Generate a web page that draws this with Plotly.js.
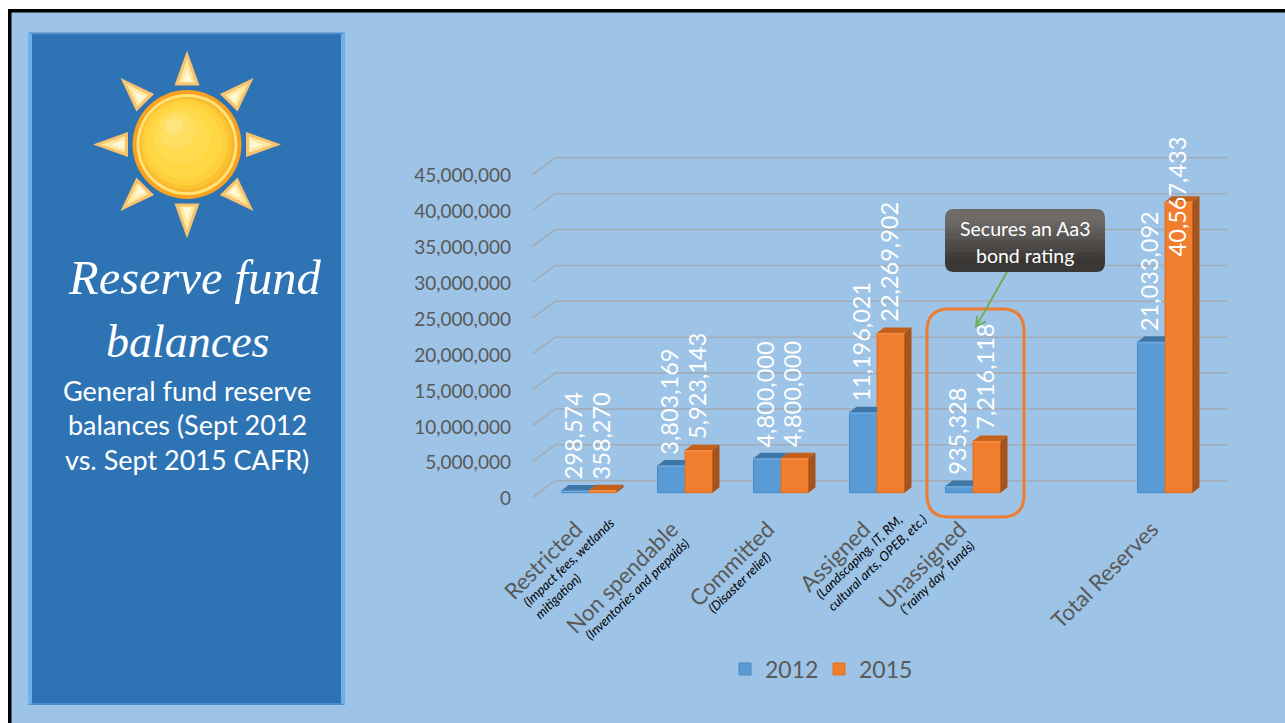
<!DOCTYPE html>
<html>
<head>
<meta charset="utf-8">
<script src="https://cdn.plot.ly/plotly-3.0.1.min.js"></script>
<style>html,body{margin:0;padding:0;background:#fff;overflow:hidden}#chart{width:1285px;height:723px}</style>
</head>
<body>
<div id="chart"></div>
<script>
// ---- data ----
var categories = ["Restricted", "Non spendable", "Committed", "Assigned", "Unassigned", "", "Total Reserves"];
var subLabels = ["(Impact fees, wetlands<br>mitigation)", "(Inventories and prepaids)", "(Disaster relief)", "(Landscaping, IT, RM,<br>cultural arts, OPEB, etc.)", "(\u201Crainy day\u201D funds)", "", ""];
var values2012 = [298574, 3803169, 4800000, 11196021, 935328, null, 21033092];
var values2015 = [358270, 5923143, 4800000, 22269902, 7216118, null, 40567433];
var valueTicks = [0, 5000000, 10000000, 15000000, 20000000, 25000000, 30000000, 35000000, 40000000, 45000000];

// ---- page geometry (pixels) ----
var W = 1285, H = 723;
var plotL = 532, plotR = 1227, plotT = 150, plotB = 500;
var firstGroupPx = 589, groupPitch = 96, barPx = 27.5, pxPerMillion = 7.175;
var zeroPxFront = 497.7, zeroPxBars = 492.7, zeroPxBack = 480.7, backLeftPx = 555;
var depthPxX = 7, depthPxY = 5.5;

function px(x) { return x / W; }
function py(y) { return 1 - y / H; }
function unitsX(p) { return (p - firstGroupPx) / groupPitch; }
function unitsY(p) { return p / pxPerMillion * 1e6; }

var xRange = [unitsX(plotL), unitsX(plotR)];
var yRangeWall = [-unitsY(plotB - zeroPxFront), unitsY(zeroPxFront - plotT)];
var yRangeBars = [-unitsY(plotB - zeroPxBars), unitsY(zeroPxBars - plotT)];
var idx = categories.map(function (c, i) { return i; });
var dX = depthPxX / groupPitch, dY = unitsY(depthPxY), barW = barPx / groupPitch;

// ---- wall: back gridlines with their diagonal returns to the front plane ----
var wallX = [], wallY = [], backOffset = unitsY(zeroPxFront - zeroPxBack);
valueTicks.forEach(function (v) {
  wallX.push(xRange[0], unitsX(backLeftPx), xRange[1], null);
  wallY.push(v, v + backOffset, v + backOffset, null);
});
var traces = [{
  x: wallX, y: wallY, mode: "lines", yaxis: "y", xaxis: "x", showlegend: false, hoverinfo: "skip",
  line: { color: "#A3ABB5", width: 1.6 }
}];

// ---- front faces ----
traces.push({ type: "bar", name: "2012", x: idx, y: values2012, yaxis: "y2", xaxis: "x",
  marker: { color: "#5B9BD5", line: { color: "#4A86BD", width: 1 } } });
traces.push({ type: "bar", name: "2015", x: idx, y: values2015, yaxis: "y2", xaxis: "x",
  marker: { color: "#F07E2E", line: { color: "#E0701F", width: 1 } } });

// ---- extruded faces computed from the same values ----
function poly(xs, ys, color) {
  return { x: xs, y: ys, mode: "lines", fill: "toself", fillcolor: color, yaxis: "y2", xaxis: "x",
    line: { width: 0, color: color }, showlegend: false, hoverinfo: "skip" };
}
var rimY = unitsY(1.5);
idx.forEach(function (i) {
  var a = values2012[i], b = values2015[i];
  if (a === null) return;
  var l = i - barW, m = i, r = i + barW;
  var blueRight = b >= a + dY ? m : m + dX;
  traces.push(poly([l, l + dX, blueRight, m, l], [a, a + dY, a + dY, a, a], "#3F76A8"));
  traces.push(poly([m, m + dX, r + dX, r, m], [b, b + dY, b + dY, b, b], "#C2601C"));
  traces.push(poly([r, r + dX, r + dX, r, r], [0, dY, b + dY, b, 0], "#A3531B"));
  traces.push(poly([l, m, m, l, l], [a, a, Math.max(a - rimY, 0), Math.max(a - rimY, 0), a], "#6DAAE2"));
  traces.push(poly([m, r, r, m, m], [b, b, Math.max(b - rimY, 0), Math.max(b - rimY, 0), b], "#F88E41"));
});

// ---- text ----
var annotations = [];
function pageText(x, y, text, size, color, extra) {
  var a = { xref: "paper", yref: "paper", x: px(x), y: py(y), text: text, showarrow: false,
    xanchor: "center", yanchor: "middle",
    font: { family: "Lato, sans-serif", size: size, color: color } };
  for (var k in extra) a[k] = extra[k];
  annotations.push(a);
}
var labelGapPx = 11;
var labelShift2015 = { 6: -66 };
idx.forEach(function (i) {
  if (values2012[i] === null) return;
  [[values2012[i], i - barW / 2 - 2 / groupPitch, 0], [values2015[i], i + barW / 2 - 2 / groupPitch, labelShift2015[i] || 0]].forEach(function (d) {
    annotations.push({ xref: "x", yref: "y2", x: d[1], y: d[0], yanchor: "bottom", xanchor: "center",
      yshift: labelGapPx + d[2] - 1, text: d[0].toLocaleString("en-US"), textangle: -90, showarrow: false, borderpad: 0,
      font: { family: "Lato, sans-serif", size: 23.5, color: "#FFFFFF" } });
  });
});

var serif = "'Liberation Serif', serif";
pageText(195, 277, "<i>Reserve fund</i>", 48.5, "#FFFFFF", { font: { family: serif, size: 48.5, color: "#FFFFFF" } });
pageText(188, 341, "<i>balances</i>", 46, "#FFFFFF", { font: { family: serif, size: 46, color: "#FFFFFF" } });
pageText(187, 390, "General fund reserve", 27, "#FFFFFF");
pageText(187, 424, "balances (Sept 2012", 27, "#FFFFFF");
pageText(187, 460, "vs. Sept 2015 CAFR)", 27, "#FFFFFF");
pageText(1025, 228, "Secures an Aa3", 19.5, "#FFFFFF");
pageText(1025, 255, "bond rating", 19.5, "#FFFFFF");

var subCentres = [[574, 568], [637, 589], [739.5, 582], [871, 556], [937, 577]];
subLabels.forEach(function (t, i) {
  if (!t) return;
  var c = subCentres[i];
  pageText(c[0], c[1], "<i>" + t + "</i>", 13, "#000000", { textangle: -44, align: "left" });
});

// ---- shapes ----
var shapes = [];
function rect(x0, y0, x1, y1, fill, layer) {
  shapes.push({ type: "rect", xref: "paper", yref: "paper", x0: px(x0), x1: px(x1), y0: py(y0), y1: py(y1),
    fillcolor: fill, line: { width: 0 }, layer: layer || "below" });
}
function path(d, fill, line, lw, layer) {
  shapes.push({ type: "path", path: d, xref: "paper", yref: "paper", fillcolor: fill || "rgba(0,0,0,0)",
    line: { color: line || "rgba(0,0,0,0)", width: lw || 0 }, layer: layer || "below" });
}
function P(x, y) { return px(x).toFixed(5) + "," + py(y).toFixed(5); }
function circle(cx, cy, r, fill) {
  shapes.push({ type: "circle", xref: "paper", yref: "paper", x0: px(cx - r), x1: px(cx + r), y0: py(cy - r), y1: py(cy + r),
    fillcolor: fill, line: { width: 0 }, layer: "below" });
}
function rounded(x0, y0, x1, y1, r) {
  return "M" + P(x0 + r, y0) + "L" + P(x1 - r, y0) + "Q" + P(x1, y0) + " " + P(x1, y0 + r) +
    "L" + P(x1, y1 - r) + "Q" + P(x1, y1) + " " + P(x1 - r, y1) +
    "L" + P(x0 + r, y1) + "Q" + P(x0, y1) + " " + P(x0, y1 - r) +
    "L" + P(x0, y0 + r) + "Q" + P(x0, y0) + " " + P(x0 + r, y0) + "Z";
}

// slide
rect(8, 9, W + 2, H + 2, "#000000");
rect(11.5, 12.5, W + 2, H + 2, "#9DC3E6");
// panel with bevel
rect(28, 32.5, 345, 705, "#4F8DC8");
rect(32, 34.5, 341, 703, "#2E74B5");
path("M" + P(28, 32.5) + "L" + P(32, 34.5) + "L" + P(32, 703) + "L" + P(28, 705) + "Z", "#6FB0EE");
path("M" + P(345, 32.5) + "L" + P(341, 34.5) + "L" + P(341, 703) + "L" + P(345, 705) + "Z", "#6FB0EE");

// sun rays
var sunX = 187, sunY = 144.5;
function ray(angle, tip, base, half, fill) {
  var c = Math.cos(angle), s = Math.sin(angle);
  function pt(along, across) { return P(sunX + along * c - across * s, sunY + along * s + across * c); }
  path("M" + pt(tip, 0) + "L" + pt(base, half) + "L" + pt(base, -half) + "Z", fill);
}
for (var k = 0; k < 8; k++) {
  var ang = k * Math.PI / 4;
  ray(ang, 94, 59, 12.5, "#F8C26E");
  ray(ang, 86, 62, 8, "#FDE9A0");
  ray(ang, 76, 63, 4.5, "#FFF8D8");
}
// sun disc (concentric steps)
circle(sunX, sunY, 54.5, "#F9A21F");
circle(sunX, sunY, 50.5, "#FFE27A");
var discSteps = [[0, 0, 47.5, "#F8B62C"], [-1, -1, 46, "#FBC332"], [-2, -2, 43, "#FFD03B"], [-3, -3, 38, "#FFD644"],
  [-5, -8, 28, "#FFDB50"], [-10, -14, 18, "#FFDF62"], [-13, -18, 9, "#FFE47C"]];
discSteps.forEach(function (s) { circle(sunX + s[0], sunY + s[1], s[2], s[3]); });

// unassigned highlight
path(rounded(927, 309, 1024, 517, 22), null, "#ED7D31", 3, "above");

// call-out with stepped gradient
var calloutX0 = 945, calloutX1 = 1105, calloutY0 = 209, calloutY1 = 272;
path(rounded(calloutX0, calloutY0, calloutX1, calloutY0 + 20, 9), "#6E6A68", null, 0, "above");
path(rounded(calloutX0, calloutY1 - 20, calloutX1, calloutY1, 9), "#3A3836", null, 0, "above");
for (var s = 0; s < 14; s++) {
  var t = s / 13, c = Math.round(110 - t * 54), c0 = c + "," + (c - 3) + "," + (c - 5);
  var h = (calloutY1 - calloutY0 - 18) / 14;
  rect(calloutX0, calloutY0 + 9 + s * h, calloutX1, calloutY0 + 9 + (s + 1) * h + .5, "rgb(" + c0 + ")", "above");
}
// arrow
path("M" + P(1007, 272) + "L" + P(976, 326.5), null, "#70AD47", 1.8, "above");
path("M" + P(977, 316) + "L" + P(976, 326.5) + "L" + P(986, 321.5), null, "#70AD47", 1.8, "above");

var layout = {
  width: W, height: H, margin: { l: 0, r: 0, t: 0, b: 0 }, paper_bgcolor: "#FFFFFF", plot_bgcolor: "rgba(0,0,0,0)",
  barmode: "group", bargap: 1 - 2 * barW, bargroupgap: 0,
  font: { family: "Lato, sans-serif", color: "#595959" },
  xaxis: { domain: [px(plotL), px(plotR)], range: xRange, tickmode: "array",
    tickvals: idx.filter(function (i) { return categories[i]; }),
    ticktext: categories.filter(function (c) { return c; }),
    tickangle: -45, tickfont: { size: 22.3, color: "#595959", family: "Lato, sans-serif" }, ticks: "",
    ticklabelstandoff: 11, ticklabelshift: -13, showgrid: false, zeroline: false, showline: false, anchor: "y", fixedrange: true },
  yaxis: { domain: [py(plotB), py(plotT)], range: yRangeWall, tickmode: "array", tickvals: valueTicks,
    ticktext: valueTicks.map(function (v) { return v.toLocaleString("en-US"); }), ticks: "",
    ticklabelstandoff: 20, ticklabelshift: 1, tickfont: { size: 19, color: "#595959", family: "Lato, sans-serif" },
    showgrid: false, zeroline: false, showline: false, anchor: "x", fixedrange: true },
  yaxis2: { domain: [py(plotB), py(plotT)], range: yRangeBars, overlaying: "y", visible: false, anchor: "x", fixedrange: true },
  legend: { orientation: "h", x: px(725), xanchor: "left", y: py(669), yanchor: "middle", entrywidth: 49, entrywidthmode: "pixels",
    font: { size: 23, color: "#595959", family: "Lato, sans-serif" }, itemclick: false, itemdoubleclick: false, bgcolor: "rgba(0,0,0,0)", traceorder: "normal" },
  shapes: shapes, annotations: annotations, showlegend: true
};
Plotly.newPlot("chart", traces, layout, { displayModeBar: false, responsive: false });
</script>
</body>
</html>
